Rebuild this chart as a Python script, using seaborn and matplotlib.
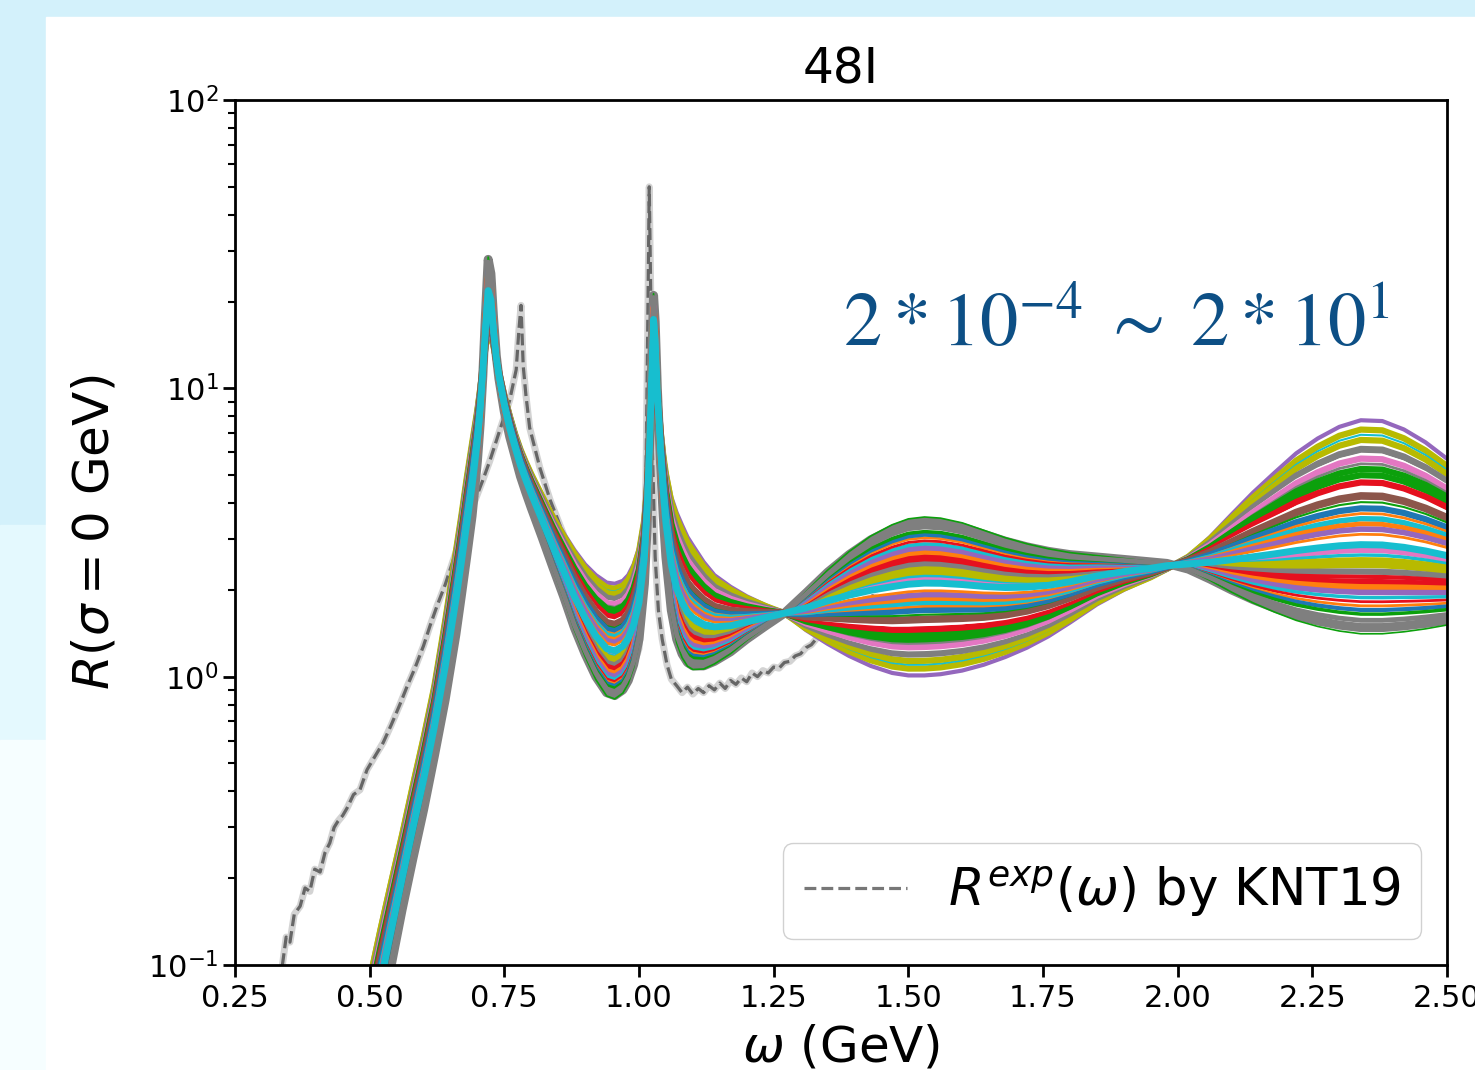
import numpy as np
import pandas as pd
import matplotlib
matplotlib.use("Agg")
import matplotlib.pyplot as plt
from matplotlib.patches import Rectangle
import seaborn as sns

# ---- lattice reconstructions: two edge curves of the band ----
omega = [0.48, 0.50, 0.52, 0.54, 0.56, 0.58, 0.60, 0.62, 0.64, 0.66, 0.67, 0.68, 0.69,
         0.70, 0.705, 0.71, 0.715, 0.72, 0.725, 0.73, 0.735, 0.74, 0.75, 0.76, 0.77,
         0.78, 0.79, 0.80, 0.82, 0.84, 0.86, 0.88, 0.90, 0.92, 0.94, 0.955, 0.97, 0.98,
         0.99, 1.00, 1.01, 1.015, 1.02, 1.024, 1.027, 1.03, 1.034, 1.04, 1.045, 1.05,
         1.06, 1.07, 1.08, 1.09, 1.10, 1.12, 1.14, 1.17, 1.20, 1.235, 1.27, 1.31, 1.35,
         1.39, 1.43, 1.47, 1.50, 1.53, 1.56, 1.60, 1.64, 1.68, 1.72, 1.76, 1.80, 1.85,
         1.90, 1.95, 1.98, 2.02, 2.06, 2.10, 2.14, 2.18, 2.22, 2.26, 2.30, 2.34, 2.38,
         2.42, 2.46, 2.50]

# lower edge around the dips (grey, thickest)
r_grey = [0.032, 0.043, 0.065, 0.10, 0.155, 0.233, 0.345, 0.53, 0.83, 1.4, 1.9, 2.6, 3.6,
          5.6, 7.5, 11, 18, 28, 25, 17.5, 13, 10.8, 8.3, 6.8, 5.8,
          4.95, 4.35, 3.85, 3.05, 2.4, 1.9, 1.48, 1.2, 1.0, 0.88, 0.86, 0.9, 0.97,
          1.1, 1.35, 2.1, 3.3, 6.5, 13, 21, 17, 10, 5.5, 3.6, 2.6,
          1.7, 1.35, 1.2, 1.12, 1.09, 1.09, 1.13, 1.22, 1.35, 1.5, 1.66, 1.95, 2.3,
          2.65, 2.98, 3.25, 3.4, 3.45, 3.42, 3.3, 3.12, 2.95, 2.82, 2.72, 2.65, 2.6,
          2.55, 2.5, 2.47, 2.36, 2.18, 2.0, 1.85, 1.73, 1.63, 1.56, 1.51, 1.48, 1.48,
          1.5, 1.53, 1.57]

# upper edge around the dips (purple)
r_purple = [0.06, 0.092, 0.137, 0.2, 0.29, 0.43, 0.63, 0.95, 1.6, 2.8, 3.7, 5.0, 6.6,
            8.6, 10, 11.8, 13.8, 15, 14.8, 13.8, 12.6, 11.4, 9.5, 8.1, 7.0,
            6.2, 5.6, 5.1, 4.3, 3.65, 3.15, 2.75, 2.45, 2.25, 2.12, 2.1, 2.15, 2.25,
            2.45, 2.8, 3.6, 4.6, 6.8, 10, 13, 12, 9.5, 7.2, 6.0, 5.2,
            4.2, 3.7, 3.35, 3.05, 2.85, 2.5, 2.25, 2.05, 1.9, 1.77, 1.66, 1.45, 1.3,
            1.18, 1.09, 1.03, 1.01, 1.01, 1.02, 1.05, 1.1, 1.17, 1.26, 1.38, 1.54, 1.78,
            2.0, 2.2, 2.36, 2.62, 3.05, 3.65, 4.35, 5.1, 5.95, 6.7, 7.35, 7.75, 7.7,
            7.2, 6.5, 5.7]

# position of each reconstruction inside the band (0 = grey edge, 1 = purple edge)
curve_pos = [0.0, -0.03, 1.00, 0.955, 0.93, 0.905, 0.86, 0.835, 0.815, 0.79, 0.765, 0.735,
             0.70, 0.665, 0.635, 0.605, 0.575, 0.55, 0.525, 0.50, 0.475, 0.45, 0.425,
             0.375, 0.35, 0.325, 0.30, 0.27, 0.245, 0.22, 0.195, 0.17, 0.145, 0.125,
             0.105, 0.085, 0.065, 0.035, 0.40]
curve_color = ["grey", "green", "purple", "olive", "cyan", "olive", "grey", "white", "pink",
               "grey", "green", "green", "red", "white", "brown", "green", "blue", "orange",
               "cyan", "orange", "purple", "orange", "white", "pink", "cyan", "olive",
               "olive", "grey", "red", "red", "orange", "purple", "cyan", "red", "orange",
               "blue", "green", "grey", "cyan"]
curve_lw = [6.5, 1.2, 3, 4.5, 1.5, 4.5, 5, 1.5, 4.5, 2, 4.5, 4.5, 4.5, 2.5, 5.5, 1.5, 4.5, 2,
            4, 3.5, 4, 2, 1.5, 4.5, 2.5, 4.5, 4, 4.5, 3, 4.5, 4.5, 4, 2.5, 2, 2, 3, 2.5,
            3.5, 5]

palette = {"blue": "#1f77b4", "orange": "#ff7f0e", "green": "#0ca00c", "red": "#e5101e",
           "purple": "#9467bd", "brown": "#8c564b", "pink": "#e377c2", "grey": "#7f7f7f",
           "olive": "#b8ba00", "cyan": "#17becf", "white": "#ffffff"}

# ---- KNT19 experimental R-ratio ----
exp_omega = [0.338, 0.345, 0.352, 0.36, 0.371, 0.38, 0.389, 0.398, 0.408, 0.417, 0.426,
             0.434, 0.441, 0.45, 0.458, 0.47, 0.482, 0.495, 0.51, 0.525, 0.54, 0.556,
             0.57, 0.584, 0.60, 0.612, 0.626, 0.64, 0.654, 0.668, 0.682, 0.696, 0.71,
             0.723, 0.742, 0.76, 0.772, 0.777, 0.781, 0.785, 0.79, 0.797, 0.816, 0.835,
             0.859, 0.877, 0.895, 0.915, 0.935, 0.955, 0.975, 0.99, 1.0, 1.008, 1.013,
             1.016, 1.019, 1.022, 1.025, 1.03, 1.036, 1.043, 1.052, 1.06, 1.07, 1.08,
             1.09, 1.10, 1.11, 1.12, 1.13, 1.14, 1.15, 1.16, 1.17, 1.18, 1.19, 1.20,
             1.21, 1.22, 1.23, 1.24, 1.25, 1.26, 1.27, 1.28, 1.29, 1.30, 1.31, 1.32,
             1.33, 1.34, 1.36, 1.40, 1.45, 1.50, 1.55, 1.60, 1.64, 1.67, 1.70, 1.73,
             1.76, 1.80, 1.85, 1.90, 1.95]
exp_R = [0.10, 0.125, 0.12, 0.15, 0.16, 0.185, 0.18, 0.215, 0.21, 0.245, 0.265,
         0.30, 0.315, 0.33, 0.35, 0.39, 0.405, 0.475, 0.53, 0.59, 0.68, 0.80,
         0.93, 1.07, 1.28, 1.5, 1.78, 2.08, 2.5, 2.98, 3.5, 4.1, 4.8,
         5.6, 7.2, 9.1, 11.6, 15.9, 19.4, 12.0, 9.5, 7.3, 5.3, 4.1,
         3.15, 2.4, 1.9, 1.55, 1.33, 1.2, 1.12, 1.1, 1.25, 2.0, 5.0,
         15.0, 50.0, 20.0, 6.0, 2.6, 1.7, 1.35, 1.1, 0.98, 0.93, 0.88,
         0.92, 0.87, 0.91, 0.88, 0.93, 0.90, 0.95, 0.91, 0.97, 0.94, 0.99, 0.96,
         1.03, 1.0, 1.05, 1.03, 1.08, 1.07, 1.12, 1.13, 1.18, 1.2, 1.26, 1.29,
         1.36, 1.4, 1.5, 1.75, 2.05, 2.3, 2.5, 2.72, 2.8, 2.78, 2.7, 2.55,
         2.42, 2.3, 2.25, 2.3, 2.35]

x_ticks = [0.25, 0.50, 0.75, 1.00, 1.25, 1.50, 1.75, 2.00, 2.25, 2.50]

sns.set_style("ticks", {"axes.edgecolor": "black", "xtick.color": "black",
                        "ytick.color": "black", "text.color": "black",
                        "axes.labelcolor": "black"})
plt.rcParams["font.family"] = ["DejaVu Sans"]

W, H = 1475, 1070
fig = plt.figure(figsize=(W / 100, H / 100), dpi=100)
fig.patch.set_facecolor("#d3f1fb")
# slide background pieces, kept behind the axes
for (x0, y0, w, h, c) in [(0, 0, 46, H - 525, "#e4f9fe"),
                          (0, 0, 46, H - 740, "#f6feff"),
                          (46, 0, W - 46, H - 17, "white")]:
    fig.patches.append(Rectangle((x0 / W, y0 / H), w / W, h / H, transform=fig.transFigure,
                                 color=c, zorder=-10))

ax = fig.add_axes([235 / W, (H - 965) / H, 1212 / W, 865 / H])
ax.set_facecolor("white")

log_g = np.log(np.array(r_grey))
log_p = np.log(np.array(r_purple))
for t, cname, lw in zip(curve_pos, curve_color, curve_lw):
    vals = np.exp((1 - t) * log_g + t * log_p)
    sns.lineplot(x=omega, y=vals, color=palette[cname], linewidth=lw, ax=ax,
                 estimator=None, sort=False, legend=False)

# experimental curve: light error band + dashed central line
sns.lineplot(x=exp_omega, y=exp_R, color="#b0b0b0", linewidth=5, alpha=0.55, ax=ax,
             estimator=None, sort=False, legend=False, zorder=1)
sns.lineplot(x=exp_omega, y=exp_R, color="#666666", linewidth=2.3, linestyle="--", ax=ax,
             estimator=None, sort=False, legend=False, zorder=1.5)

ax.set_yscale("log")
ax.set_xlim(0.25, 2.5)
ax.set_ylim(0.1, 100)
ax.set_xticks(x_ticks)
ax.set_xticklabels([f"{v:.2f}" for v in x_ticks])
ax.tick_params(axis="both", which="major", labelsize=22, length=8.5, width=2, direction="out")
ax.tick_params(axis="x", which="major", pad=5)
ax.tick_params(axis="y", which="minor", length=5, width=1.5)
for sp in ax.spines.values():
    sp.set_linewidth(2)
    sp.set_visible(True)

ax.set_title("48I", fontsize=35, pad=12)
ax.set_xlabel(r"$\omega$ (GeV)", fontsize=36, labelpad=8)
ax.set_ylabel(r"$R(\sigma=0$ GeV$)$", fontsize=36, labelpad=21)

handle = plt.Line2D([], [], color="#777777", linestyle="--", linewidth=2.3)
leg = ax.legend([handle], [r"$R^{exp}(\omega)$ by KNT19"], loc="lower right", fontsize=37,
                frameon=True, fancybox=True, edgecolor="#cccccc", framealpha=0.9)

fig.text(843 / W, (H - 345) / H, r"$2*10^{-4}\;\sim\;2*10^{1}$", fontsize=55,
         color="#0d4f85", ha="left", va="baseline", math_fontfamily="stix")

fig.savefig("out.png", dpi=100, facecolor=fig.get_facecolor())
